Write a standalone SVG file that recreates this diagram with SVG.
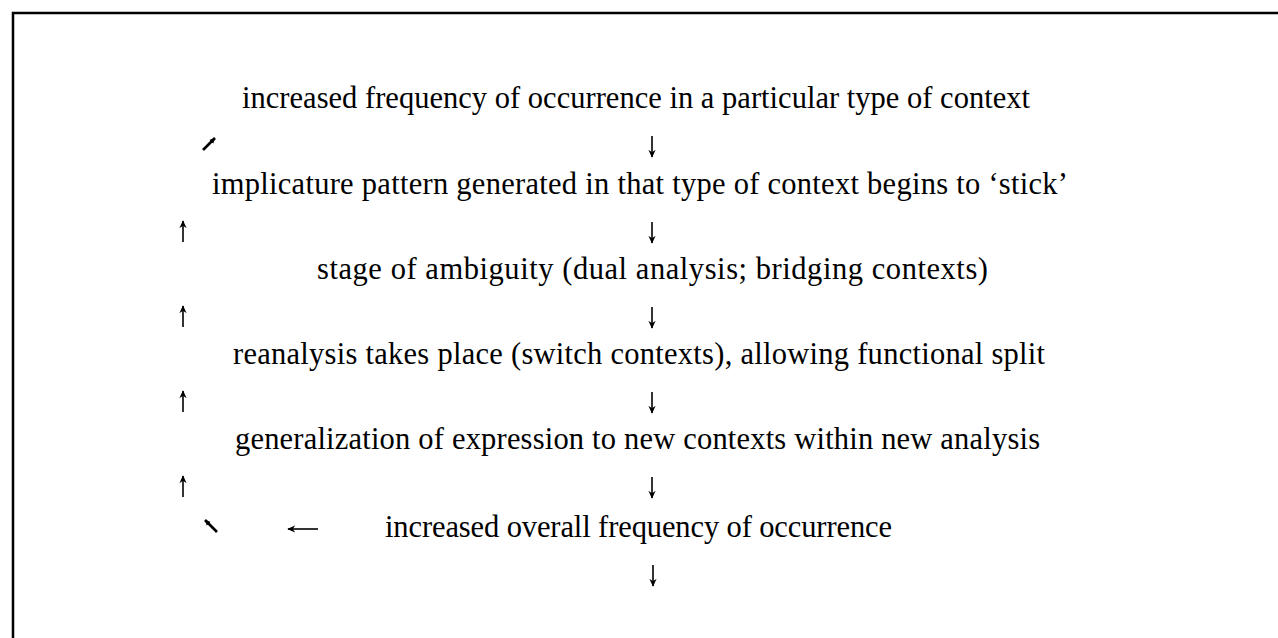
<svg xmlns="http://www.w3.org/2000/svg" width="1278" height="638" viewBox="0 0 1278 638">
<style>
.t{font-family:"Liberation Serif","Times New Roman",serif;font-size:30.5px;fill:#000}
.c{stroke:#000;stroke-width:1.6;fill:none}
.d{stroke:#000;stroke-width:2.6;fill:none}
.frame{fill:#fff;stroke:#000;stroke-width:2.5}
</style>
<defs>
<marker id="ah" viewBox="0 0 10 10" refX="9" refY="5" markerWidth="8" markerHeight="8" orient="auto" markerUnits="userSpaceOnUse">
<path d="M0,0.5 L10,5 L0,9.5 L3,5 z" fill="#000"/>
</marker>
<marker id="ahs" viewBox="0 0 10 10" refX="9" refY="5" markerWidth="6" markerHeight="6" orient="auto" markerUnits="userSpaceOnUse">
<path d="M0,0.5 L10,5 L0,9.5 z" fill="#000"/>
</marker>
</defs>
<rect width="1278" height="638" fill="#fff"/>
<rect class="frame" x="13" y="13" width="1300" height="700"/>
<g id="n1"><text class="t" x="242" y="108" textLength="788" lengthAdjust="spacing">increased frequency of occurrence in a particular type of context</text></g>
<g id="n2"><text class="t" x="212" y="194" textLength="856" lengthAdjust="spacing">implicature pattern generated in that type of context begins to ‘stick’</text></g>
<g id="n3"><text class="t" x="317" y="279" textLength="671" lengthAdjust="spacing">stage of ambiguity (dual analysis; bridging contexts)</text></g>
<g id="n4"><text class="t" x="233" y="364" textLength="812" lengthAdjust="spacing">reanalysis takes place (switch contexts), allowing functional split</text></g>
<g id="n5"><text class="t" x="235" y="449" textLength="805" lengthAdjust="spacing">generalization of expression to new contexts within new analysis</text></g>
<g id="n6"><text class="t" x="385" y="537" textLength="507" lengthAdjust="spacing">increased overall frequency of occurrence</text></g>
<g id="connectors">
<path class="c" marker-end="url(#ah)" d="M652,136 V157"/>
<path class="c" marker-end="url(#ah)" d="M652,222 V243"/>
<path class="c" marker-end="url(#ah)" d="M652,307 V328"/>
<path class="c" marker-end="url(#ah)" d="M652,392 V413"/>
<path class="c" marker-end="url(#ah)" d="M652,477 V498"/>
<path class="c" marker-end="url(#ah)" d="M653,565 V586"/>
<path class="c" marker-end="url(#ah)" d="M183,242 V221"/>
<path class="c" marker-end="url(#ah)" d="M183,327 V306"/>
<path class="c" marker-end="url(#ah)" d="M183,412 V391"/>
<path class="c" marker-end="url(#ah)" d="M183,497 V476"/>
<path class="d" marker-end="url(#ahs)" d="M203,150 L215,138"/>
<path class="d" marker-end="url(#ahs)" d="M217,532 L205,520"/>
<path class="c" marker-end="url(#ah)" d="M318,529 H288"/>
</g>
</svg>
